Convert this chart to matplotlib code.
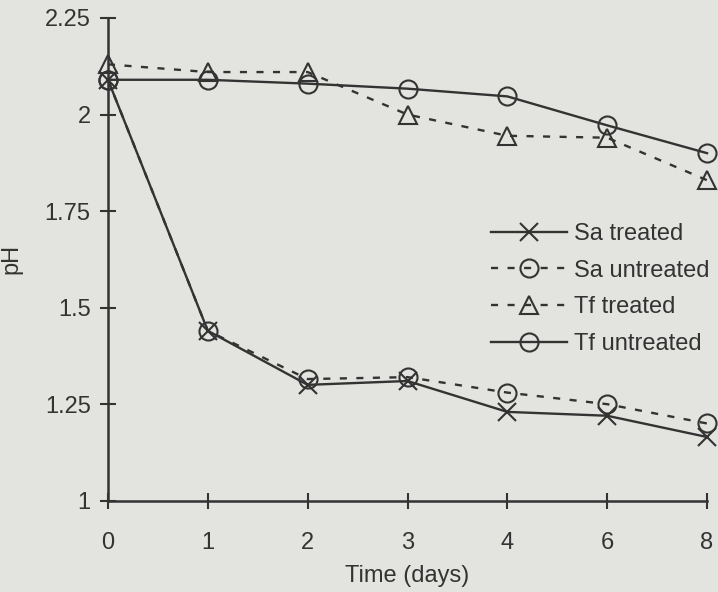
import matplotlib.pyplot as plt

# Дані з графіка: pH за днями
days = ["0", "1", "2", "3", "4", "6", "8"]
sa_treated = [2.09, 1.44, 1.30, 1.31, 1.23, 1.22, 1.165]
sa_untreated = [2.09, 1.44, 1.315, 1.32, 1.28, 1.25, 1.20]
tf_treated = [2.13, 2.11, 2.11, 2.00, 1.945, 1.94, 1.83]
tf_untreated = [2.09, 2.09, 2.08, 2.067, 2.047, 1.972, 1.90]

ink = "#333333"
bg = "#e3e3e0"

plt.rcParams['font.family'] = ['Liberation Sans', 'DejaVu Sans']
plt.rcParams['font.size'] = 17

fig = plt.figure(figsize=(7.18, 5.92), dpi=100, facecolor=bg)
ax = fig.add_axes([0.1504, 0.1542, 0.8343, 0.8154])
ax.set_facecolor(bg)

x = list(range(len(days)))
common = dict(color=ink, lw=1.7, markersize=13, mfc='none', mew=1.5, clip_on=False)
dash = (0, (3, 4))
ax.plot(x, sa_treated, '-', marker='x', label="Sa treated", **common)
ax.plot(x, sa_untreated, linestyle=dash, marker='o', label="Sa untreated", **common)
ax.plot(x, tf_treated, linestyle=dash, marker='^', label="Tf treated", **common)
ax.plot(x, tf_untreated, '-', marker='o', label="Tf untreated", **common)

ax.set_xlim(0, len(days) - 1)
ax.set_ylim(1, 2.25)
ax.set_xticks(x)
ax.set_xticklabels(days)
ax.set_yticks([1, 1.25, 1.5, 1.75, 2, 2.25])
ax.set_yticklabels(["1", "1.25", "1.5", "1.75", "2", "2.25"])

for s in ["top", "right"]:
    ax.spines[s].set_visible(False)
for s in ["left", "bottom"]:
    ax.spines[s].set_color(ink)
    ax.spines[s].set_linewidth(1.8)

ax.tick_params(axis='both', direction='inout', length=11, width=1.5, colors=ink, labelcolor=ink)
ax.tick_params(axis='x', pad=17)
ax.tick_params(axis='y', pad=7)

ax.set_xlabel("Time (days)", color=ink, labelpad=8)
ax.set_ylabel("pH", color=ink, labelpad=16)

leg = fig.legend(loc='upper left', bbox_to_anchor=(491 / 718, 1 - 223 / 592),
                 frameon=False, borderpad=0, borderaxespad=0, handlelength=3.2,
                 handletextpad=0.3, labelspacing=0.62)
for t in leg.get_texts():
    t.set_color(ink)

plt.savefig('out.png', facecolor=bg)
